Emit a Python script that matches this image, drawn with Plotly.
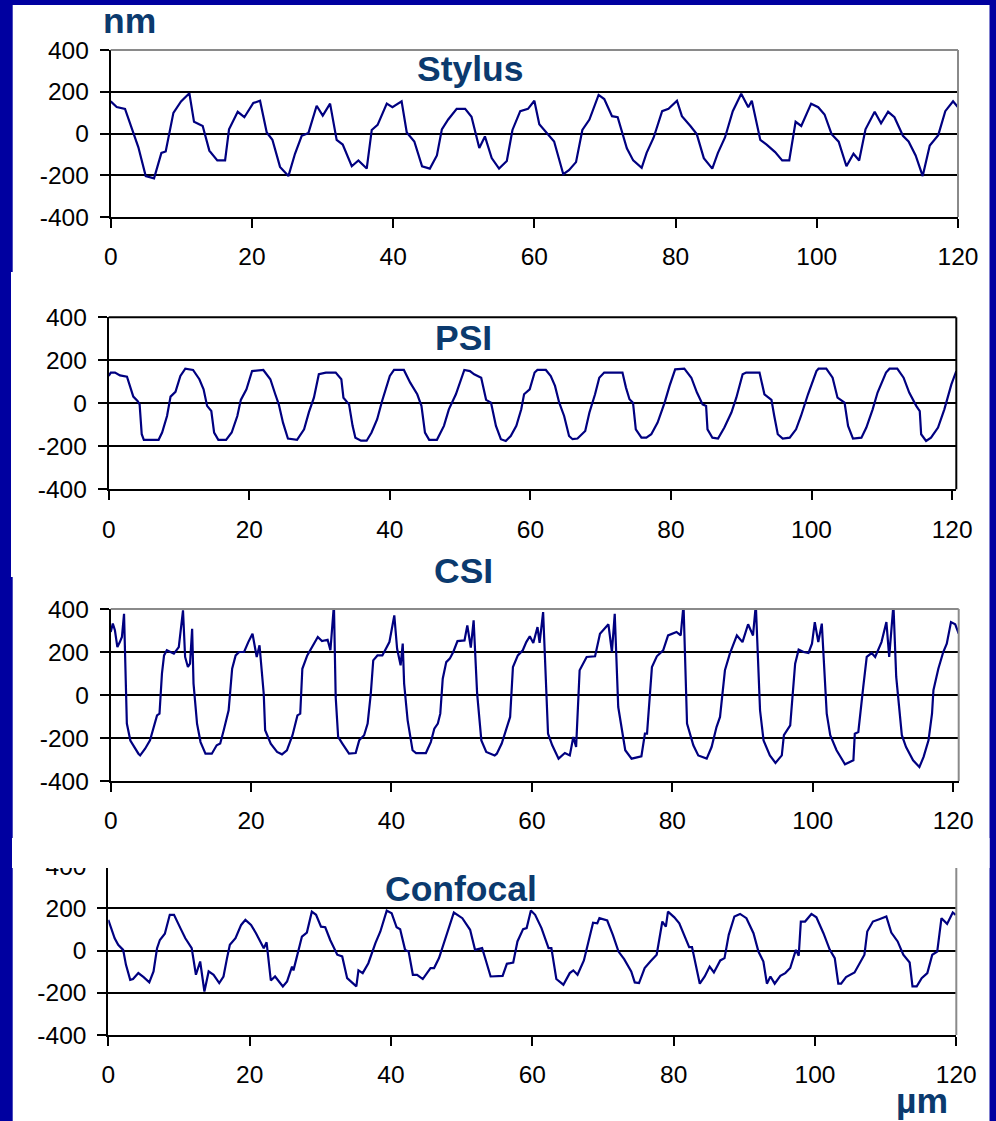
import plotly.graph_objects as go

W, H = 996, 1121

# ------------------------------------------------------------------ data
stylus_x = [0, 0.85, 2.03, 2.74, 3.92, 4.96, 6.14, 7.18, 7.79, 8.88,
            9.96, 11.14, 11.8, 13.03, 13.97, 15.1, 16.2, 16.76, 17.99, 18.93,
            20.2, 21.15, 22.1, 22.9, 23.98, 25.17, 26.1, 27.05, 28.0, 29.17,
            30.03, 31.07, 32.0, 32.86, 34.14, 35.08, 36.26, 36.97, 37.8, 39.1,
            39.9, 41.2, 41.93, 43.0, 44.1, 45.2, 46.2, 46.9, 47.8, 49.0,
            50.2, 51.1, 52.2, 53.0, 53.96, 55.0, 56.1, 56.9, 58.0, 59.1,
            60.0, 60.7, 61.5, 62.8, 64.1, 64.9, 65.9, 66.8, 67.8, 69.1,
            69.9, 71.0, 71.8, 73.1, 74.0, 75.2, 75.9, 76.9, 78.1, 79.0,
            80.2, 80.9, 82.1, 83.0, 84.0, 85.2, 86.0, 87.0, 88.1, 89.3,
            90.3, 90.8, 92.0, 92.9, 94.1, 95.1, 96.1, 97.0, 97.8, 99.2,
            100.2, 101.1, 102.1, 103.1, 104.2, 105.2, 106.0, 106.9, 108.2, 109.1,
            110.1, 111.0, 112.2, 113.0, 114.0, 115.0, 116.0, 117.2, 118.2, 119.3,
            120.0]
stylus_y = [154, 127, 118, 52, -66, -204, -215, -93, -86, 99,
            154, 193, 56, 36, -82, -129, -129, 20, 104, 78,
            146, 157, 5, -30, -160, -204, -97, -11, 2, 133,
            86, 143, -31, -53, -157, -129, -168, 17, 41, 143,
            126, 154, 5, -38, -157, -168, -105, 20, 67, 118,
            118, 80, -69, -14, -118, -168, -132, 17, 107, 118,
            157, 44, 13, -38, -195, -176, -137, 17, 67, 185,
            165, 83, 78, -71, -129, -165, -93, -19, 107, 118,
            157, 83, 36, -3, -118, -168, -93, -19, 107, 190,
            126, 157, -31, -53, -89, -129, -129, 56, 36, 143,
            126, 91, -3, -39, -157, -97, -129, 20, 104, 49,
            104, 78, -11, -38, -105, -204, -58, -8, 107, 154,
            126]

psi_x = [0, 0.3, 0.9, 1.6, 2.6, 3.0, 3.5, 4.1, 4.4, 4.7,
         5.0, 7.1, 7.6, 8.3, 8.8, 9.5, 10.2, 10.9, 12.0, 12.9,
         13.5, 14.0, 14.6, 15.0, 15.6, 16.7, 17.5, 18.3, 18.8, 19.6,
         20.4, 22.0, 23.0, 23.7, 24.2, 24.8, 25.5, 26.8, 27.8, 28.5,
         29.2, 29.9, 30.9, 32.3, 33.1, 33.4, 34.2, 34.7, 35.1, 35.9,
         36.7, 37.4, 38.2, 38.9, 40.0, 40.6, 42.0, 42.9, 43.9, 44.5,
         45.0, 45.6, 46.7, 47.7, 48.4, 49.4, 50.6, 51.4, 52.0, 53.0,
         53.7, 54.4, 55.1, 55.8, 56.5, 57.2, 58.0, 58.7, 59.1, 59.9,
         60.6, 61.0, 62.2, 62.9, 63.5, 64.1, 64.8, 65.5, 66.0, 66.7,
         67.8, 68.4, 69.2, 69.8, 70.5, 73.1, 73.6, 74.1, 74.6, 75.0,
         75.8, 76.5, 77.2, 78.1, 79.1, 79.8, 80.6, 81.9, 82.9, 83.7,
         84.5, 85.0, 85.2, 85.9, 86.7, 87.6, 88.6, 89.3, 90.2, 90.7,
         92.6, 93.3, 94.3, 94.7, 95.2, 95.9, 96.9, 97.8, 98.5, 99.5,
         100.7, 101.0, 102.1, 103.0, 103.7, 104.7, 105.2, 105.9, 107.1, 107.8,
         108.7, 109.4, 110.6, 111.1, 112.2, 113.1, 113.9, 114.9, 115.4, 115.6,
         116.3, 117.0, 118.0, 118.9, 119.9, 120.6]
psi_y = [127, 143, 143, 130, 124, 81, 31, 11, -5, -144,
         -170, -170, -136, -59, 31, 53, 127, 161, 155, 112,
         65, -12, -36, -136, -170, -170, -136, -59, 16, 65,
         150, 155, 112, 42, -5, -90, -164, -170, -121, -40,
         26, 135, 143, 143, 112, 26, -5, -105, -160, -174,
         -174, -136, -74, 11, 127, 155, 155, 96, 42, -12,
         -136, -170, -170, -105, -28, 42, 155, 150, 135, 119,
         16, 3, -105, -167, -175, -152, -105, -28, 42, 65,
         143, 155, 155, 127, 81, 3, -59, -152, -167, -164,
         -129, -43, 42, 119, 143, 143, 73, 19, 3, -121,
         -160, -160, -144, -90, 3, 81, 158, 161, 119, 50,
         -5, -12, -121, -160, -164, -113, -43, 26, 135, 143,
         143, 42, 16, -59, -144, -164, -160, -121, -59, 42,
         150, 161, 161, 119, 26, 3, -105, -164, -160, -113,
         -28, 50, 143, 161, 161, 119, 50, -12, -36, -144,
         -175, -160, -113, -28, 88, 150]

csi_x = [0, 0.3, 0.6, 0.95, 1.3, 1.6, 1.9, 2.2, 2.3, 2.8,
         3.2, 3.95, 4.2, 4.9, 5.6, 6.1, 6.6, 6.95, 7.3, 7.6,
         8.0, 9.0, 9.7, 10.3, 10.6, 11.0, 11.3, 11.6, 11.8, 12.3,
         12.8, 13.5, 14.4, 15.1, 15.6, 16.1, 16.8, 17.3, 17.8, 18.3,
         19.0, 19.6, 20.2, 20.8, 21.2, 21.8, 22.0, 22.8, 23.7, 24.4,
         25.1, 25.9, 26.6, 27.0, 27.3, 28.0, 28.5, 29.2, 29.5, 30.1,
         30.9, 31.3, 31.8, 32.05, 32.4, 33.0, 33.95, 34.9, 35.4, 36.1,
         36.6, 37.05, 37.4, 38.0, 38.7, 39.7, 40.4, 40.8, 41.3, 41.6,
         41.8, 42.3, 43.0, 43.5, 44.9, 45.6, 46.1, 46.6, 46.95, 47.3,
         47.8, 48.3, 48.8, 49.4, 50.4, 50.8, 51.3, 51.7, 52.2, 52.8,
         53.5, 54.7, 55.0, 55.7, 56.4, 56.9, 57.3, 58.0, 58.7, 59.2,
         59.7, 60.2, 60.8, 61.1, 61.6, 62.3, 62.9, 63.8, 64.7, 65.4,
         65.9, 66.3, 66.8, 67.8, 69.0, 69.7, 70.9, 71.4, 71.8, 72.3,
         73.3, 74.2, 75.6, 76.1, 76.4, 77.1, 77.8, 78.7, 79.4, 80.6,
         81.2, 81.6, 82.1, 83.0, 83.7, 84.9, 85.6, 86.3, 86.8, 87.5,
         88.2, 89.2, 90.0, 90.8, 91.5, 91.9, 92.5, 93.0, 93.9, 94.7,
         95.6, 95.9, 96.8, 97.5, 98.0, 98.7, 99.4, 99.9, 100.3, 100.8,
         101.3, 102.0, 102.5, 103.4, 104.6, 105.8, 106.0, 106.5, 107.2, 107.7,
         108.4, 108.9, 109.8, 110.5, 110.9, 111.5, 111.9, 112.7, 113.3, 114.3,
         115.2, 115.8, 116.5, 117.0, 117.2, 117.9, 118.6, 119.1, 119.7, 120.3,
         120.8]
csi_y = [293, 332, 301, 223, 246, 270, 378, 6, -133, -212,
         -234, -273, -281, -250, -211, -149, -95, -87, 99, 184,
         208, 192, 223, 394, 177, 130, 146, 308, 53, -133,
         -219, -273, -273, -234, -226, -164, -71, 122, 184, 200,
         200, 246, 285, 177, 231, 6, -164, -226, -265, -276,
         -257, -187, -95, -87, 122, 184, 215, 254, 270, 251,
         257, 208, 420, -9, -195, -226, -273, -270, -211, -187,
         -133, 6, 161, 184, 184, 246, 370, 215, 138, 239,
         53, -118, -257, -270, -270, -219, -157, -133, -87, 76,
         153, 169, 200, 251, 254, 324, 220, 347, 6, -211,
         -265, -281, -273, -226, -149, -102, 130, 184, 208, 246,
         273, 242, 316, 242, 386, -180, -234, -296, -270, -281,
         -195, -242, 115, 177, 180, 285, 329, 200, 378, -56,
         -257, -296, -285, -180, -180, 130, 180, 208, 277, 293,
         277, 420, -133, -234, -281, -296, -242, -149, -102, 115,
         192, 277, 246, 329, 277, 420, -71, -211, -281, -316,
         -281, -187, -141, 146, 211, 200, 195, 239, 339, 246,
         332, -87, -187, -257, -322, -304, -180, -172, 37, 177,
         195, 177, 246, 339, 177, 420, 84, -187, -242, -304,
         -335, -288, -211, -87, 22, 122, 200, 239, 339, 329,
         285]

confocal_x = [0, 0.5, 0.9, 1.4, 2.1, 2.5, 3.1, 3.5, 4.25, 5.0,
              5.8, 6.4, 6.9, 7.3, 8.0, 8.7, 9.3, 10.2, 10.9, 11.8,
              12.4, 13.0, 13.6, 14.2, 14.9, 15.7, 16.3, 16.8, 17.2, 18.0,
              18.8, 19.4, 20.2, 20.9, 21.7, 22.0, 22.4, 23.0, 23.6, 24.7,
              25.3, 26.0, 26.2, 26.7, 27.4, 28.1, 28.8, 29.4, 30.1, 30.7,
              31.4, 32.4, 33.1, 33.8, 35.1, 35.4, 36.0, 36.8, 37.8, 38.5,
              39.4, 40.1, 40.8, 41.3, 42.0, 42.5, 43.1, 43.7, 44.5, 45.6,
              46.1, 46.8, 47.9, 48.9, 50.1, 51.2, 51.9, 52.9, 53.4, 54.1,
              55.8, 56.4, 57.3, 57.9, 58.7, 59.2, 59.8, 60.4, 61.3, 62.3,
              62.7, 63.4, 64.4, 65.3, 65.8, 66.4, 67.3, 67.9, 68.6, 69.2,
              69.5, 70.6, 71.4, 72.2, 73.0, 74.0, 74.5, 75.1, 75.9, 76.7,
              77.6, 78.4, 78.9, 79.2, 80.1, 80.8, 81.5, 82.2, 82.6, 83.7,
              84.4, 85.1, 85.7, 86.6, 87.2, 87.8, 88.6, 89.4, 90.3, 91.3,
              92.0, 92.7, 93.2, 93.7, 94.3, 95.1, 95.8, 96.5, 97.3, 97.7,
              98.0, 98.6, 99.5, 100.2, 101.2, 102.1, 102.8, 103.3, 103.7, 104.4,
              105.6, 106.3, 107.0, 107.4, 108.2, 109.1, 110.1, 110.8, 111.7, 112.5,
              113.4, 113.8, 114.4, 115.1, 115.9, 116.6, 117.3, 117.9, 118.7, 119.5,
              119.9]
confocal_y = [145, 98, 58, 27, 3, -68, -139, -135, -107, -126,
              -151, -99, 11, 50, 79, 169, 169, 106, 58, 11,
              -115, -52, -194, -99, -115, -154, -123, -36, 27, 58,
              121, 145, 121, 82, 31, 11, 39, -142, -123, -170,
              -146, -76, -94, -28, 66, 85, 184, 169, 113, 110,
              50, -20, -28, -131, -170, -94, -107, -60, 35, 90,
              189, 176, 110, 101, 3, -5, -115, -115, -135, -83,
              -83, -36, 82, 180, 153, 98, 3, 11, -44, -123,
              -120, -63, -57, 43, 101, 106, 189, 169, 106, 11,
              11, -135, -162, -107, -94, -115, -47, 43, 132, 129,
              153, 142, 74, -5, -41, -99, -151, -154, -83, -52,
              -20, 137, 113, 184, 157, 129, 74, 16, 16, -157,
              -123, -76, -104, -47, -36, 74, 161, 173, 153, 82,
              -5, -52, -157, -123, -157, -120, -107, -83, 3, -25,
              137, 137, 173, 157, 82, 3, -36, -157, -157, -126,
              -104, -60, -20, 90, 137, 148, 161, 85, 43, -20,
              -57, -170, -170, -131, -107, -20, -5, 153, 126, 180,
              169]

titles = ["Stylus", "PSI", "CSI", "Confocal"]
y_unit = "nm"
x_unit = "\u00b5m"
x_ticks = [0, 20, 40, 60, 80, 100, 120]
x_tick_labels = ["0", "20", "40", "60", "80", "100", "120"]
y_ticks = [-400, -200, 0, 200, 400]
y_tick_labels = ["-400", "-200", "0", "200", "400"]
x_max = [120, 120.6, 120.8, 120]

series = [(stylus_x, stylus_y), (psi_x, psi_y), (csi_x, csi_y), (confocal_x, confocal_y)]

# ------------------------------------------------------------------ style / layout
FRAME = "#0000A0"
TITLE_C = "#0B3A6E"
LINE_C = "#000080"
GRAY = "#8A8A8A"
FONT = "Arial, 'Liberation Sans', sans-serif"

# plot-area boxes in pixels (left, right, top, bottom)
boxes = [
    (110.7, 958.0, 50.0, 217.0),
    (108.7, 956.3, 317.3, 489.3),
    (110.7, 958.7, 609.0, 781.0),
    (108.3, 956.3, 866.0, 1035.0),
]
border_colors = [(GRAY, GRAY), ("#000000", "#000000"), (GRAY, GRAY), (None, GRAY)]
title_pos = [(470.3, 68.5), (463.0, 338.4), (463.7, 570.7), (461.0, 889.4)]


def px(v):
    return v / W


def py(v):
    return 1 - v / H


fig = go.Figure()
layout = dict(
    width=W, height=H,
    autosize=False,
    margin=dict(l=0, r=0, t=0, b=0, pad=0, autoexpand=False),
    paper_bgcolor=FRAME,
    plot_bgcolor="white",
    showlegend=False,
    font=dict(family=FONT, color="black"),
)
shapes = [
    dict(type="rect", xref="paper", yref="paper", layer="below",
         x0=px(12.7), x1=px(989.5), y0=py(1121), y1=py(5),
         fillcolor="white", line=dict(width=0)),
    dict(type="rect", xref="paper", yref="paper", layer="below",
         x0=px(11), x1=px(13), y0=py(577), y1=py(272),
         fillcolor="white", line=dict(width=0)),
]
annotations = []

for i, ((xs, ys), (l, r, t, b)) in enumerate(zip(series, boxes)):
    n = "" if i == 0 else str(i + 1)
    fig.add_trace(go.Scatter(
        x=xs, y=ys, mode="lines", xaxis="x" + n, yaxis="y" + n,
        line=dict(color=LINE_C, width=2.2), hoverinfo="skip"))
    layout["xaxis" + n] = dict(
        domain=[px(l), px(r)], anchor="y" + n, range=[0, x_max[i]],
        tickvals=x_ticks, ticktext=x_tick_labels,
        ticks="outside", ticklen=9, tickwidth=2, tickcolor="black",
        showline=True, linecolor="black", linewidth=2,
        showgrid=False, zeroline=False, automargin=False,
        tickfont=dict(family=FONT, size=24.5, color="black"),
        ticklabelstandoff=8,
    )
    layout["yaxis" + n] = dict(
        domain=[py(b), py(t)], anchor="x" + n, range=[-400, 400],
        tickvals=y_ticks, ticktext=y_tick_labels,
        ticks="outside", ticklen=9, tickwidth=2, tickcolor="black",
        showline=True, linecolor="black", linewidth=2,
        showgrid=True, gridcolor="black", gridwidth=2, zeroline=False,
        automargin=False,
        tickfont=dict(family=FONT, size=24.5, color="black"),
        ticklabelstandoff=6,
    )
    top_c, right_c = border_colors[i]
    xd, yd = "x" + n + " domain", "y" + n + " domain"
    if top_c:
        shapes.append(dict(type="line", xref=xd, yref=yd, x0=0, x1=1, y0=1, y1=1,
                           layer="above", line=dict(color=top_c, width=2)))
    if right_c:
        shapes.append(dict(type="line", xref=xd, yref=yd, x0=1, x1=1, y0=0, y1=1,
                           layer="above", line=dict(color=right_c, width=2)))
    tx, ty = title_pos[i]
    annotations.append(dict(text="<b>%s</b>" % titles[i], xref="paper", yref="paper",
                            x=px(tx), y=py(ty), xanchor="center", yanchor="middle",
                            showarrow=False,
                            font=dict(family=FONT, size=35.5, color=TITLE_C)))

# the last panel's top edge is cut off in the original picture
shapes.append(dict(type="rect", xref="paper", yref="paper", layer="above",
                   x0=px(12), x1=px(989.5), y0=py(868), y1=py(838),
                   fillcolor="white", line=dict(width=0)))

annotations.append(dict(text="<b>%s</b>" % y_unit, xref="paper", yref="paper",
                        x=px(129.5), y=py(21), xanchor="center", yanchor="middle",
                        showarrow=False, font=dict(family=FONT, size=35.5, color=TITLE_C)))
annotations.append(dict(text="<b>%s</b>" % x_unit, xref="paper", yref="paper",
                        x=px(922), y=py(1101), xanchor="center", yanchor="middle",
                        showarrow=False, font=dict(family=FONT, size=35.5, color=TITLE_C)))

layout["shapes"] = shapes
layout["annotations"] = annotations
fig.update_layout(**layout)
fig.write_html("out.html")
